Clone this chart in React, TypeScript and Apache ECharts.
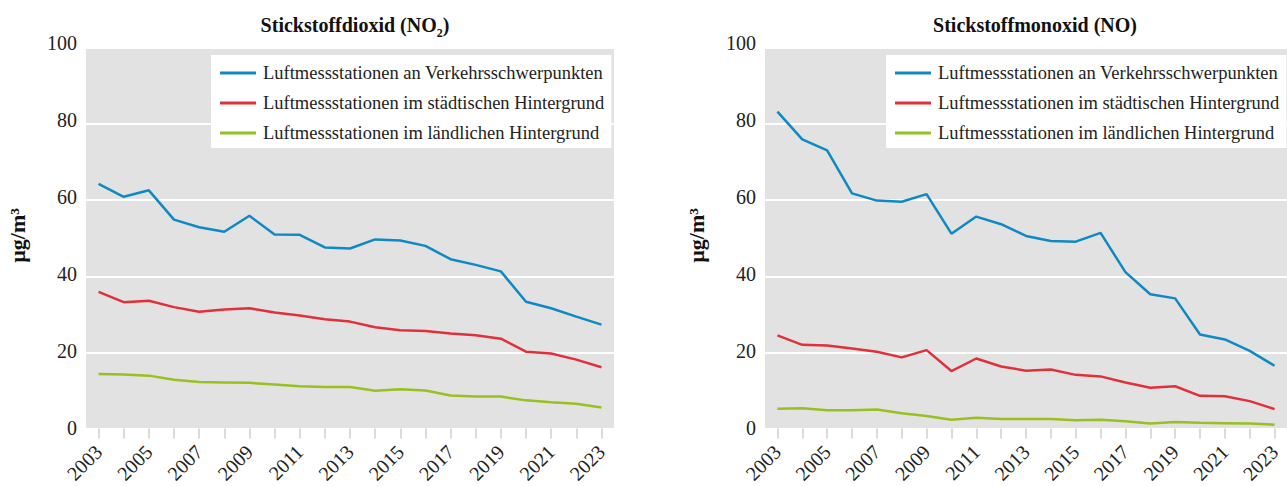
import React, { useEffect, useRef } from "react";
import * as echarts from "echarts";

const years = [
  "2003", "2004", "2005", "2006", "2007", "2008", "2009", "2010", "2011", "2012",
  "2013", "2014", "2015", "2016", "2017", "2018", "2019", "2020", "2021", "2022", "2023",
];

const seriesNames = [
  "Luftmessstationen an Verkehrsschwerpunkten",
  "Luftmessstationen im städtischen Hintergrund",
  "Luftmessstationen im ländlichen Hintergrund",
];

// Stickstoffdioxid (NO2), µg/m³
const no2Traffic = [64.3, 60.9, 62.6, 54.9, 52.9, 51.7, 55.9, 51.0, 50.9, 47.6, 47.3, 49.7, 49.4, 48.0, 44.5, 43.0, 41.3, 33.3, 31.6, 29.4, 27.3];
const no2Urban = [35.9, 33.2, 33.6, 31.9, 30.7, 31.3, 31.6, 30.5, 29.7, 28.7, 28.1, 26.6, 25.8, 25.6, 25.0, 24.5, 23.6, 20.2, 19.7, 18.1, 16.1];
const no2Rural = [14.3, 14.2, 13.9, 12.8, 12.2, 12.1, 12.0, 11.6, 11.1, 10.9, 10.9, 9.9, 10.3, 10.0, 8.7, 8.4, 8.4, 7.4, 6.9, 6.5, 5.5];

// Stickstoffmonoxid (NO), µg/m³
const noTraffic = [83.3, 76.0, 73.1, 61.8, 59.9, 59.6, 61.6, 51.2, 55.7, 53.7, 50.6, 49.3, 49.1, 51.4, 41.1, 35.3, 34.2, 24.7, 23.4, 20.4, 16.5];
const noUrban = [24.5, 22.0, 21.8, 21.0, 20.2, 18.7, 20.6, 15.1, 18.4, 16.3, 15.2, 15.5, 14.1, 13.7, 12.1, 10.7, 11.1, 8.6, 8.5, 7.2, 5.1];
const noRural = [5.2, 5.3, 4.8, 4.8, 5.0, 4.0, 3.3, 2.3, 2.8, 2.5, 2.5, 2.5, 2.2, 2.3, 1.9, 1.3, 1.7, 1.5, 1.4, 1.3, 1.0];

const yTicks = { min: 0, max: 100, interval: 20 };
const unitLabel = "µg/m³";

const colors = ["#0e89c3", "#e2303a", "#96c11f"];
const FONT = "'Liberation Serif', 'DejaVu Serif', serif";

export default function App() {
  const ref = useRef<HTMLDivElement>(null);

  useEffect(() => {
    if (!ref.current) return;
    const chart = echarts.init(ref.current, undefined, { renderer: "svg" });

    const plotGrids = [
      { left: 86, right: 673, top: 48, bottom: 53 },
      { left: 765, right: -6, top: 48, bottom: 53 },
    ];
    // label grids: same scale, nudged up so the tick labels sit slightly above their gridlines
    const labelGrids = plotGrids.map((g) => ({ ...g, top: g.top - 5, bottom: g.bottom + 5 }));

    const xAxis = [
      ...plotGrids.map((_, i) => ({
        type: "category",
        gridIndex: i,
        data: years,
        boundaryGap: true,
        axisLine: { show: false },
        axisTick: {
          show: true,
          alignWithLabel: true,
          interval: 0,
          length: 10,
          lineStyle: { color: "#dadada", width: 2 },
        },
        axisLabel: {
          interval: 1,
          rotate: 45,
          margin: 20,
          fontSize: 20,
          fontFamily: FONT,
          color: "#222",
        },
      })),
      ...labelGrids.map((_, i) => ({
        type: "category",
        gridIndex: i + 2,
        data: years,
        show: false,
      })),
    ];

    const yAxis = [
      ...plotGrids.map((_, i) => ({
        type: "value",
        gridIndex: i,
        min: yTicks.min,
        max: yTicks.max,
        interval: yTicks.interval,
        axisLine: { show: false },
        axisTick: { show: false },
        axisLabel: { show: false },
        splitLine: { show: true, lineStyle: { color: "#ffffff", width: 2 } },
      })),
      ...labelGrids.map((_, i) => ({
        type: "value",
        gridIndex: i + 2,
        min: yTicks.min,
        max: yTicks.max,
        interval: yTicks.interval,
        name: unitLabel,
        nameLocation: "middle",
        nameRotate: 90,
        nameGap: 58,
        nameTextStyle: { fontSize: 22, fontWeight: "bold", fontFamily: FONT, color: "#111" },
        axisLine: { show: false },
        axisTick: { show: false },
        splitLine: { show: false },
        axisLabel: {
          margin: 9,
          fontSize: 20,
          fontFamily: FONT,
          color: "#222",
        },
      })),
    ];

    const mk = (name: string, data: number[], idx: number, color: string) => ({
      name,
      type: "line",
      xAxisIndex: idx,
      yAxisIndex: idx,
      data,
      color,
      showSymbol: false,
      symbol: "none",
      lineStyle: { color, width: 2.5 },
      itemStyle: { color },
    });

    const legendBase = {
      orient: "vertical",
      top: 55,
      backgroundColor: "#ffffff",
      padding: [8, 7, 5, 9],
      itemWidth: 36,
      itemHeight: 3,
      itemGap: 10,
      icon: "rect",
      data: seriesNames,
      textStyle: { fontSize: 18.5, fontFamily: FONT, color: "#222", lineHeight: 20, padding: [0, 0, 0, 2] },
    };

    const titleRich = {
      a: { fontSize: 20, fontWeight: "bold", fontFamily: FONT, color: "#111", lineHeight: 18, verticalAlign: "bottom", padding: [0, 0, 4, 0] },
      s: { fontSize: 12, fontWeight: "bold", fontFamily: FONT, color: "#111", lineHeight: 12, verticalAlign: "bottom" },
    };

    chart.setOption({
      animation: false,
      backgroundColor: "#ffffff",
      title: [
        {
          text: "{a|Stickstoffdioxid (NO}{s|2}{a|)}",
          left: 350,
          top: 16,
          textAlign: "center",
          textStyle: { rich: titleRich },
        },
        {
          text: "{a|Stickstoffmonoxid (NO)}",
          left: 1030,
          top: 16,
          textAlign: "center",
          textStyle: { rich: titleRich },
        },
      ],
      legend: [
        { ...legendBase, left: 211 },
        { ...legendBase, left: 886 },
      ],
      grid: [
        ...plotGrids.map((g) => ({ ...g, show: true, backgroundColor: "#e2e2e2", borderWidth: 0 })),
        ...labelGrids.map((g) => ({ ...g, show: false })),
      ],
      xAxis,
      yAxis,
      series: [
        mk(seriesNames[0], no2Traffic, 0, colors[0]),
        mk(seriesNames[1], no2Urban, 0, colors[1]),
        mk(seriesNames[2], no2Rural, 0, colors[2]),
        mk(seriesNames[0], noTraffic, 1, colors[0]),
        mk(seriesNames[1], noUrban, 1, colors[1]),
        mk(seriesNames[2], noRural, 1, colors[2]),
      ],
    });

    return () => chart.dispose();
  }, []);

  return (
    <div
      ref={ref}
      style={{ position: "fixed", left: 0, top: 0, width: 1287, height: 486, overflow: "hidden" }}
    />
  );
}
